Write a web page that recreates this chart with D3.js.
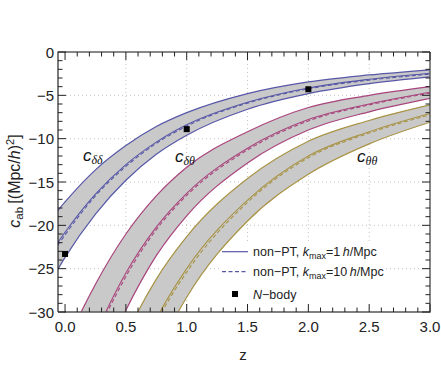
<!DOCTYPE html>
<html>
<head>
<meta charset="utf-8">
<script src="https://cdn.jsdelivr.net/npm/d3@7"></script>
<style>
  body { margin: 0; background: #fff; }
  svg { font-family: "Liberation Sans", Arial, sans-serif; }
  .tick-label { font-size: 15px; fill: #222; }
</style>
</head>
<body>
<div class="viz"></div>
<script>
const W = 441, H = 365;
const box = { left: 58, right: 430, top: 52, bottom: 312 };

// redshift grid the curves were read at
const zGrid = [-0.06, 0, 0.25, 0.5, 0.75, 1, 1.5, 2, 2.5, 3];

// c_dd band (blue)
const ddUpper = [-18.3, -17.3, -13.6, -10.8, -8.6, -7.0, -4.8, -3.45, -2.65, -2.05];
const ddMid   = [-22.0, -20.8, -16.4, -13.0, -10.4, -8.4, -5.8, -4.15, -3.15, -2.45];
const ddDash  = [-22.3, -21.1, -16.6, -13.2, -10.55, -8.55, -5.9, -4.25, -3.25, -2.55];
const ddLower = [-25.1, -23.7, -18.7, -14.8, -11.8, -9.6, -6.6, -4.8, -3.65, -2.87];

// c_dt band (magenta)
const dtUpper = [-36.0, -34.0, -26.8, -21.0, -16.6, -13.3, -9.2, -6.4, -5.0, -4.0];
const dtMid   = [-43.7, -41.3, -32.6, -25.5, -20.2, -16.3, -11.1, -7.8, -6.0, -4.65];
const dtDash  = [-44.2, -41.8, -33.0, -25.9, -20.5, -16.55, -11.3, -7.95, -6.1, -4.75];
const dtLower = [-50.5, -47.8, -37.7, -29.8, -23.5, -18.9, -12.8, -9.0, -6.9, -5.35];

// c_tt band (olive)
const ttUpper = [-55.6, -52.6, -41.5, -32.8, -26.2, -21.3, -14.6, -10.3, -7.9, -6.1];
const ttMid   = [-65.5, -61.9, -48.8, -38.6, -30.8, -25.0, -17.1, -12.0, -9.2, -7.1];
const ttDash  = [-66.3, -62.7, -49.4, -39.1, -31.2, -25.4, -17.35, -12.2, -9.35, -7.25];
const ttLower = [-74.2, -70.1, -55.3, -43.7, -34.9, -28.3, -19.5, -14.1, -10.6, -8.1];

// N-body points
const nbodyZ = [0, 1, 2];
const nbodyC = [-23.3, -8.9, -4.3];

const xMajor = [0, 0.5, 1, 1.5, 2, 2.5, 3];
const xLabels = ["0.0", "0.5", "1.0", "1.5", "2.0", "2.5", "3.0"];
const yMajor = [0, -5, -10, -15, -20, -25, -30];
const yLabels = ["0", "\u22125", "\u221210", "\u221215", "\u221220", "\u221225", "\u221230"];

const bands = [
  { up: ddUpper, mid: ddMid, dash: ddDash, low: ddLower, color: "#5757a8" },
  { up: dtUpper, mid: dtMid, dash: dtDash, low: dtLower, color: "#a8437c" },
  { up: ttUpper, mid: ttMid, dash: ttDash, low: ttLower, color: "#a89345" }
];

const svg = d3.select(".viz").append("svg").attr("width", W).attr("height", H);

const x = d3.scaleLinear().domain([-0.058, 3]).range([box.left, box.right]);
const y = d3.scaleLinear().domain([-30, 0]).range([box.bottom, box.top]);

svg.append("clipPath").attr("id", "clip")
  .append("rect")
  .attr("x", box.left).attr("y", box.top)
  .attr("width", box.right - box.left).attr("height", box.bottom - box.top);

// grid
const grid = svg.append("g").attr("stroke", "#c4c4c4").attr("stroke-dasharray", "1,3");
grid.selectAll("line.gx").data(xMajor.filter(d => d > 0 && d < 3)).join("line")
  .attr("x1", d => x(d)).attr("x2", d => x(d))
  .attr("y1", box.top).attr("y2", box.bottom);
grid.selectAll("line.gy").data(yMajor.filter(d => d < 0 && d > -30)).join("line")
  .attr("x1", box.left).attr("x2", box.right)
  .attr("y1", d => y(d)).attr("y2", d => y(d));

// legend background hides the grid but sits under the bands
svg.append("rect").attr("x", 219).attr("y", 242).attr("width", 164).attr("height", 63).attr("fill", "#fff");

const plot = svg.append("g").attr("clip-path", "url(#clip)");

const area = d3.area()
  .x(d => x(d.z)).y0(d => y(d.lo)).y1(d => y(d.hi))
  .curve(d3.curveMonotoneX);
const line = d3.line()
  .x(d => x(d.z)).y(d => y(d.v))
  .curve(d3.curveMonotoneX);

const pts = arr => zGrid.map((z, i) => ({ z, v: arr[i] }));

bands.forEach(b => {
  plot.append("path")
    .datum(zGrid.map((z, i) => ({ z, lo: b.low[i], hi: b.up[i] })))
    .attr("d", area).attr("fill", "#c9c9c9");
});
bands.forEach(b => {
  const g = plot.append("g").attr("fill", "none").attr("stroke", b.color);
  g.append("path").datum(pts(b.up)).attr("d", line).attr("stroke-width", 1.2);
  g.append("path").datum(pts(b.low)).attr("d", line).attr("stroke-width", 1.2);
  g.append("path").datum(pts(b.mid)).attr("d", line).attr("stroke-width", 1.1);
  g.append("path").datum(pts(b.dash)).attr("d", line).attr("stroke-width", 1.1)
    .attr("stroke-dasharray", "4,2.5");
});

plot.selectAll("rect.nb").data(nbodyZ).join("rect")
  .attr("class", "nb")
  .attr("x", d => x(d) - 3).attr("y", (d, i) => y(nbodyC[i]) - 3)
  .attr("width", 6).attr("height", 6).attr("fill", "#000");

// legend
const leg = svg.append("g");
const legRows = [251.7, 271.7, 294];
leg.append("line").attr("x1", 222).attr("x2", 248).attr("y1", legRows[0]).attr("y2", legRows[0])
  .attr("stroke", bands[0].color).attr("stroke-width", 1.2);
leg.append("line").attr("x1", 222).attr("x2", 248).attr("y1", legRows[1]).attr("y2", legRows[1])
  .attr("stroke", bands[0].color).attr("stroke-width", 1.2).attr("stroke-dasharray", "4,2.5");
leg.append("rect").attr("x", 232).attr("y", legRows[2] - 3).attr("width", 6).attr("height", 6).attr("fill", "#000");

function kmaxText(yy, val) {
  const tx = leg.append("text").attr("x", 253).attr("y", yy + 4.5).attr("font-size", 12.5).attr("fill", "#222");
  tx.append("tspan").text("non\u2212PT, ");
  tx.append("tspan").attr("font-style", "italic").text("k");
  tx.append("tspan").attr("font-size", 9).attr("dy", 2.5).text("max");
  tx.append("tspan").attr("dy", -2.5).text("=" + val + "\u2009");
  tx.append("tspan").attr("font-style", "italic").text("h");
  tx.append("tspan").text("/Mpc");
}
kmaxText(legRows[0], "1");
kmaxText(legRows[1], "10");
const nb = leg.append("text").attr("x", 253).attr("y", legRows[2] + 4.5).attr("font-size", 12.5).attr("fill", "#222");
nb.append("tspan").attr("font-style", "italic").text("N");
nb.append("tspan").text("\u2212body");

// frame
const frame = svg.append("g").attr("fill", "none");
frame.append("path")
  .attr("d", `M${box.right},${box.top}H${box.left}V${box.bottom}`)
  .attr("stroke", "#111").attr("stroke-width", 1.1);
frame.append("path")
  .attr("d", `M${box.left},${box.bottom}H${box.right}V${box.top}`)
  .attr("stroke", "#555").attr("stroke-width", 1.4);

// ticks, all four sides pointing inward
const ticks = svg.append("g").attr("stroke", "#222").attr("stroke-width", 1);
const xMinor = d3.range(0, 3.001, 0.1).filter(d => Math.abs(d * 2 - Math.round(d * 2)) > 1e-6);
const yMinor = d3.range(-30, 0.001, 1).filter(d => d % 5 !== 0);
const xt = xMajor.map(d => ({ v: d, len: 8 })).concat(xMinor.map(d => ({ v: d, len: 4.5 })));
const yt = yMajor.map(d => ({ v: d, len: 8 })).concat(yMinor.map(d => ({ v: d, len: 4.5 })));

ticks.selectAll("line.xb").data(xt).join("line")
  .attr("x1", d => x(d.v)).attr("x2", d => x(d.v))
  .attr("y1", box.bottom).attr("y2", d => box.bottom - d.len);
ticks.selectAll("line.xt").data(xt).join("line")
  .attr("x1", d => x(d.v)).attr("x2", d => x(d.v))
  .attr("y1", box.top).attr("y2", d => box.top + d.len);
ticks.selectAll("line.yl").data(yt).join("line")
  .attr("y1", d => y(d.v)).attr("y2", d => y(d.v))
  .attr("x1", box.left).attr("x2", d => box.left + d.len);
ticks.selectAll("line.yr").data(yt).join("line")
  .attr("y1", d => y(d.v)).attr("y2", d => y(d.v))
  .attr("x1", box.right).attr("x2", d => box.right - d.len);

// tick labels
svg.selectAll("text.xl").data(xMajor).join("text")
  .attr("class", "tick-label")
  .attr("x", d => x(d)).attr("y", 332)
  .attr("text-anchor", "middle")
  .text((d, i) => xLabels[i]);
svg.selectAll("text.yl").data(yMajor).join("text")
  .attr("class", "tick-label")
  .attr("x", 54).attr("y", d => y(d) + 5.5)
  .attr("text-anchor", "end")
  .text((d, i) => yLabels[i]);

// axis titles
svg.append("text").attr("x", 243).attr("y", 360).attr("text-anchor", "middle")
  .attr("font-size", 15).attr("fill", "#222").text("z");

const yt2 = svg.append("text")
  .attr("transform", "translate(20,181) rotate(-90)")
  .attr("text-anchor", "middle").attr("font-size", 16).attr("fill", "#222");
yt2.append("tspan").attr("font-style", "italic").text("c");
yt2.append("tspan").attr("font-size", 11.5).attr("dy", 3).text("ab");
yt2.append("tspan").attr("dy", -3).text("\u2009[(Mpc/");
yt2.append("tspan").attr("font-style", "italic").text("h");
yt2.append("tspan").text(")");
yt2.append("tspan").attr("font-size", 11).attr("dy", -6).text("2");
yt2.append("tspan").attr("dy", 6).text("]");

// band labels
const bandLabels = [
  { x: 83, y: 161, sub: "\u03b4\u03b4" },
  { x: 175, y: 162, sub: "\u03b4\u03b8" },
  { x: 357, y: 162, sub: "\u03b8\u03b8" }
];
bandLabels.forEach(l => {
  const t = svg.append("text").attr("x", l.x).attr("y", l.y).attr("fill", "#111");
  t.append("tspan").attr("font-size", 17).attr("font-style", "italic").text("c");
  t.append("tspan").attr("font-size", 12).attr("font-style", "italic")
    .attr("font-family", "'Liberation Serif', 'DejaVu Serif', serif")
    .attr("dy", 3).text(l.sub);
});
</script>
</body>
</html>
